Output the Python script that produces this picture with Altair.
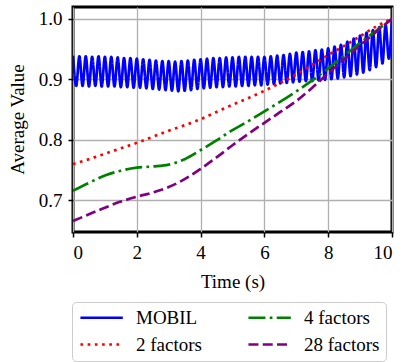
import altair as alt
import pandas as pd

# ---------------- data ----------------
SERIES = ["MOBIL", "2 factors", "4 factors", "28 factors"]
COLORS = ["#0000ff", "#ff0000", "#008000", "#800080"]
DASHES = [[1, 0], [2.7, 4.5], [17, 4.3, 2.7, 4.3], [10, 4.3]]

# MOBIL oscillation: peak values at t = 0, 0.2, ..., 10 and trough values at t = 0.1, 0.3, ..., 9.9
mobil_peak_t = [round(0.2 * i, 1) for i in range(51)]
mobil_peaks = [
    0.939, 0.938, 0.938, 0.937, 0.938, 0.937, 0.937, 0.936, 0.935, 0.935,
    0.934, 0.933, 0.932, 0.931, 0.930, 0.930, 0.929, 0.930, 0.931, 0.932,
    0.933, 0.934, 0.935, 0.935, 0.936, 0.936, 0.937, 0.937, 0.937, 0.937,
    0.937, 0.938, 0.939, 0.940, 0.942, 0.944, 0.945, 0.946, 0.948, 0.949,
    0.951, 0.954, 0.957, 0.962, 0.967, 0.972, 0.977, 0.981, 0.986, 0.990,
    1.000,
]
mobil_trough_t = [round(0.2 * i + 0.1, 1) for i in range(50)]
mobil_troughs = [
    0.889, 0.889, 0.888, 0.889, 0.888, 0.888, 0.888, 0.887, 0.887, 0.886,
    0.886, 0.885, 0.884, 0.883, 0.882, 0.881, 0.880, 0.881, 0.882, 0.884,
    0.885, 0.886, 0.887, 0.887, 0.888, 0.888, 0.889, 0.889, 0.890, 0.890,
    0.891, 0.892, 0.893, 0.894, 0.895, 0.896, 0.897, 0.897, 0.898, 0.899,
    0.900, 0.901, 0.903, 0.905, 0.908, 0.911, 0.915, 0.920, 0.926, 0.934,
]

t_smooth = [0.0, 0.5, 1.0, 1.5, 2.0, 2.5, 3.0, 3.5, 4.0, 4.5, 5.0,
            5.5, 6.0, 6.5, 7.0, 7.5, 8.0, 8.5, 9.0, 9.5, 10.0]
two_factors = [0.760, 0.768, 0.777, 0.786, 0.795, 0.805, 0.815, 0.824, 0.834, 0.846, 0.858,
               0.869, 0.881, 0.894, 0.908, 0.924, 0.940, 0.955, 0.971, 0.987, 1.000]
four_factors = [0.716, 0.729, 0.741, 0.749, 0.754, 0.756, 0.759, 0.768, 0.783, 0.799, 0.816,
                0.831, 0.847, 0.863, 0.880, 0.898, 0.918, 0.939, 0.960, 0.980, 1.000]
twentyeight_factors = [0.666, 0.677, 0.688, 0.698, 0.706, 0.713, 0.722, 0.735, 0.752, 0.771, 0.791,
                       0.810, 0.828, 0.846, 0.864, 0.886, 0.910, 0.933, 0.956, 0.978, 1.000]

x_ticks = [0, 2, 4, 6, 8, 10]
y_ticks = [0.7, 0.8, 0.9, 1.0]

# ---------------- tables ----------------
mob = pd.DataFrame({"t": mobil_peak_t + mobil_trough_t,
                    "v": mobil_peaks + mobil_troughs}).sort_values("t")
mob["series"] = "MOBIL"
frames = {"MOBIL": mob}
for name, vals in [("2 factors", two_factors), ("4 factors", four_factors),
                   ("28 factors", twentyeight_factors)]:
    frames[name] = pd.DataFrame({"t": t_smooth, "v": vals, "series": name})

FONT = "Liberation Serif"
FS = 19

color = alt.Color(
    "series:N",
    title=None,
    scale=alt.Scale(domain=SERIES, range=COLORS),
    legend=alt.Legend(
        orient="none", legendX=-1, legendY=295, columns=2,
        symbolType="M-1,0H5", symbolSize=200, symbolStrokeWidth=2.7,
        labelFont=FONT, labelFontSize=FS, labelColor="black", labelOffset=39,
        columnPadding=41, rowPadding=7, padding=6,
        strokeColor="#cccccc", cornerRadius=4, fillColor="white",
    ),
)
dash = alt.StrokeDash(
    "series:N", title=None,
    scale=alt.Scale(domain=SERIES, range=DASHES),
)

xenc = alt.X("t:Q", scale=alt.Scale(domain=[0, 10], nice=False, zero=False),
             axis=alt.Axis(values=x_ticks, title="Time (s)", titleY=49, titleBaseline="middle",
                           labelPadding=6, labelFont=FONT, titleFont=FONT))
yenc = alt.Y("v:Q", scale=alt.Scale(domain=[0.6478, 1.0193], nice=False, zero=False),
             axis=alt.Axis(values=y_ticks, format=".1f", title="Average Value",
                           titleX=-56, titleY=112, titleBaseline="middle", labelPadding=6,
                           labelFont=FONT, titleFont=FONT))

layers = []
for name in SERIES:
    layers.append(
        alt.Chart(frames[name]).mark_line(strokeWidth=2.7, interpolate="monotone", clip=True)
        .encode(x=xenc, y=yenc, color=color, strokeDash=dash)
    )

chart = (
    alt.layer(*layers)
    .properties(width=319, height=225,
                autosize=alt.AutoSizeParams(type="none"),
                padding={"left": 73, "top": 7, "right": 11, "bottom": 130})
    .configure(font=FONT)
    .configure_view(stroke="black", strokeWidth=3)
    .configure_axis(
        labelFontSize=FS, labelColor="black",
        titleFontSize=FS, titleFontWeight="normal", titleColor="black",
        domain=False, tickColor="black", tickSize=5, tickWidth=1.5,
        grid=True, gridColor="#b0b0b0", gridWidth=1.3,
    )
    .configure_axisY(titleAngle=270)
)

chart.save("out.html", embed_options={"renderer": "svg", "actions": False})
